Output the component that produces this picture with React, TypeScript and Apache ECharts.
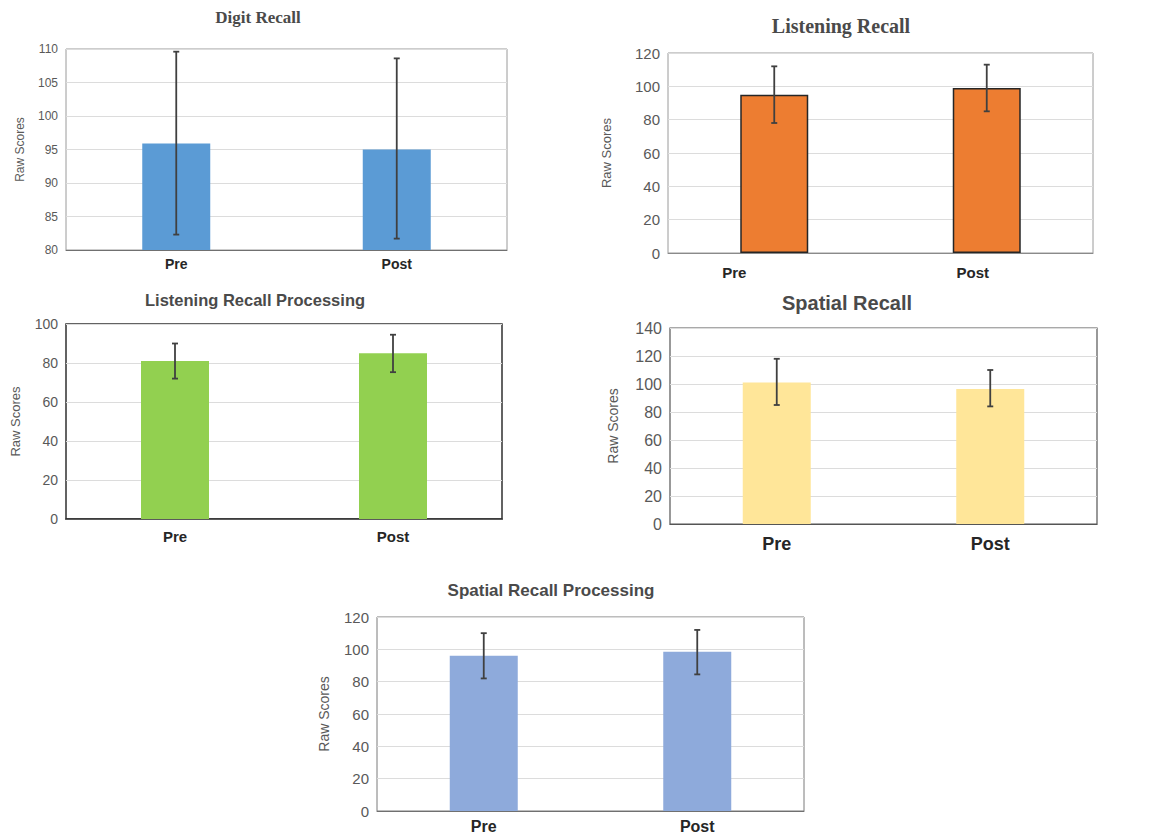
import React, { useEffect, useRef } from "react";
import * as echarts from "echarts";

// Test phases shown on every x axis
const phases = ["Pre", "Post"];

// Digit Recall
const digitMean = [95.9, 95.0];
const digitLow = [82.3, 81.7];
const digitHigh = [109.6, 108.6];
const digitTicks = { min: 80, max: 110, interval: 5 };

// Listening Recall
const listenMean = [95, 99];
const listenLow = [78, 85];
const listenHigh = [112, 113];
const listenTicks = { min: 0, max: 120, interval: 20 };

// Listening Recall Processing
const listenProcMean = [81, 85];
const listenProcLow = [72, 75.3];
const listenProcHigh = [90, 94.5];
const listenProcTicks = { min: 0, max: 100, interval: 20 };

// Spatial Recall
const spatialMean = [101, 96.5];
const spatialLow = [85, 84];
const spatialHigh = [118, 110];
const spatialTicks = { min: 0, max: 140, interval: 20 };

// Spatial Recall Processing
const spatialProcMean = [96, 98.5];
const spatialProcLow = [82, 84.5];
const spatialProcHigh = [110, 112];
const spatialProcTicks = { min: 0, max: 120, interval: 20 };

type Panel = {
  title: string;
  titleFont: string;
  titleSize: number;
  titleX: number;
  titleTop: number;
  grid: { left: number; top: number; width: number; height: number };
  borderColor: string;
  borderWidth: number;
  axisColor: string;
  ticks: { min: number; max: number; interval: number };
  tickSize: number;
  catSize: number;
  catShift: number[];
  catMargin: number;
  nameSize: number;
  nameGap: number;
  mean: number[];
  low: number[];
  high: number[];
  color: string;
  barBorder: string | null;
};

const panels: Panel[] = [
  {
    title: "Digit Recall",
    titleFont: "Liberation Serif",
    titleSize: 17,
    titleX: 253,
    titleTop: 4,
    grid: { left: 66, top: 49, width: 441, height: 201 },
    borderColor: "#9a9a9a",
    borderWidth: 1,
    axisColor: "#707070",
    ticks: digitTicks,
    tickSize: 12,
    catSize: 14,
    catShift: [0, 0],
    catMargin: 7,
    nameSize: 12,
    nameGap: 40,
    mean: digitMean,
    low: digitLow,
    high: digitHigh,
    color: "#5b9bd5",
    barBorder: null,
  },
  {
    title: "Listening Recall",
    titleFont: "Liberation Serif",
    titleSize: 20,
    titleX: 836,
    titleTop: 11,
    grid: { left: 668, top: 53, width: 425, height: 200 },
    borderColor: "#9a9a9a",
    borderWidth: 1,
    axisColor: "#8a8a8a",
    ticks: listenTicks,
    tickSize: 15,
    catSize: 15,
    catShift: [-40, -14],
    catMargin: 12,
    nameSize: 13,
    nameGap: 55,
    mean: listenMean,
    low: listenLow,
    high: listenHigh,
    color: "#ed7d31",
    barBorder: "#262626",
  },
  {
    title: "Listening Recall Processing",
    titleFont: "Liberation Sans",
    titleSize: 16.5,
    titleX: 250,
    titleTop: 286,
    grid: { left: 66, top: 324, width: 436, height: 195 },
    borderColor: "#303030",
    borderWidth: 1.5,
    axisColor: "#303030",
    ticks: listenProcTicks,
    tickSize: 14,
    catSize: 15,
    catShift: [0, 0],
    catMargin: 10,
    nameSize: 13,
    nameGap: 44,
    mean: listenProcMean,
    low: listenProcLow,
    high: listenProcHigh,
    color: "#92d050",
    barBorder: null,
  },
  {
    title: "Spatial Recall",
    titleFont: "Liberation Sans",
    titleSize: 20,
    titleX: 842,
    titleTop: 288,
    grid: { left: 670, top: 328, width: 427, height: 196 },
    borderColor: "#555555",
    borderWidth: 1.2,
    axisColor: "#555555",
    ticks: spatialTicks,
    tickSize: 16,
    catSize: 18,
    catShift: [0, 0],
    catMargin: 11,
    nameSize: 14,
    nameGap: 50,
    mean: spatialMean,
    low: spatialLow,
    high: spatialHigh,
    color: "#ffe699",
    barBorder: null,
  },
  {
    title: "Spatial Recall Processing",
    titleFont: "Liberation Sans",
    titleSize: 17,
    titleX: 546,
    titleTop: 577,
    grid: { left: 377, top: 617, width: 427, height: 194 },
    borderColor: "#7a7a7a",
    borderWidth: 1,
    axisColor: "#707070",
    ticks: spatialProcTicks,
    tickSize: 15,
    catSize: 16,
    catShift: [0, 0],
    catMargin: 7,
    nameSize: 14,
    nameGap: 46,
    mean: spatialProcMean,
    low: spatialProcLow,
    high: spatialProcHigh,
    color: "#8eaadb",
    barBorder: null,
  },
];

// Draws a vertical whisker with short caps between the low and high values
const errorBar = (params: any, api: any) => {
  const idx = api.value(0);
  const lo = api.coord([idx, api.value(1)]);
  const hi = api.coord([idx, api.value(2)]);
  const cap = 3;
  const style = { stroke: "#404040", lineWidth: 1.8 };
  return {
    type: "group",
    children: [
      { type: "line", shape: { x1: lo[0], y1: lo[1], x2: hi[0], y2: hi[1] }, style },
      { type: "line", shape: { x1: lo[0] - cap, y1: lo[1], x2: lo[0] + cap, y2: lo[1] }, style },
      { type: "line", shape: { x1: hi[0] - cap, y1: hi[1], x2: hi[0] + cap, y2: hi[1] }, style },
    ],
  };
};

function buildOption() {
  const title: any[] = [];
  const grid: any[] = [];
  const xAxis: any[] = [];
  const yAxis: any[] = [];
  const series: any[] = [];

  panels.forEach((p, i) => {
    title.push({
      text: p.title,
      left: p.titleX,
      top: p.titleTop,
      textAlign: "center",
      textStyle: {
        fontFamily: p.titleFont,
        fontSize: p.titleSize,
        fontWeight: "bold",
        color: "#4a4a4a",
      },
    });
    grid.push({
      ...p.grid,
      show: true,
      borderColor: p.borderColor,
      borderWidth: p.borderWidth,
      backgroundColor: "#ffffff",
      containLabel: false,
    });
    xAxis.push({
      type: "category",
      gridIndex: i,
      data: phases.map((ph, k) => {
        const s = p.catShift[k];
        return {
          value: ph,
          textStyle: {
            padding: s < 0 ? [0, -2 * s, 0, 0] : [0, 0, 0, 2 * s],
          },
        };
      }),
      axisTick: { show: false },
      axisLine: { show: true, lineStyle: { color: p.axisColor, width: p.borderWidth } },
      axisLabel: {
        margin: p.catMargin,
        fontFamily: "Liberation Sans",
        fontSize: p.catSize,
        fontWeight: "bold",
        color: "#262626",
      },
    });
    yAxis.push({
      type: "value",
      gridIndex: i,
      min: p.ticks.min,
      max: p.ticks.max,
      interval: p.ticks.interval,
      name: "Raw Scores",
      nameLocation: "middle",
      nameRotate: 90,
      nameGap: p.nameGap,
      nameTextStyle: {
        fontFamily: "Liberation Sans",
        fontSize: p.nameSize,
        color: "#595959",
      },
      axisLine: { show: false },
      axisTick: { show: false },
      axisLabel: {
        margin: 8,
        fontFamily: "Liberation Sans",
        fontSize: p.tickSize,
        color: "#595959",
      },
      splitLine: { show: true, lineStyle: { color: "#dcdcdc", width: 1 } },
    });
    series.push({
      type: "bar",
      xAxisIndex: i,
      yAxisIndex: i,
      data: p.mean,
      barWidth: 68,
      itemStyle: {
        color: p.color,
        borderColor: p.barBorder || p.color,
        borderWidth: p.barBorder ? 1.5 : 0,
      },
      z: 2,
    });
    series.push({
      type: "custom",
      xAxisIndex: i,
      yAxisIndex: i,
      renderItem: errorBar,
      encode: { x: 0, y: [1, 2] },
      data: p.mean.map((_, k) => [k, p.low[k], p.high[k]]),
      z: 3,
    });
  });

  return {
    animation: false,
    backgroundColor: "#ffffff",
    title,
    grid,
    xAxis,
    yAxis,
    series,
  };
}

export default function App() {
  const ref = useRef<HTMLDivElement>(null);
  useEffect(() => {
    if (!ref.current) return;
    const chart = echarts.init(ref.current, null, { renderer: "svg" });
    chart.setOption(buildOption());
    return () => chart.dispose();
  }, []);
  return (
    <div
      ref={ref}
      style={{ position: "fixed", left: 0, top: 0, width: 1150, height: 838, background: "#fff" }}
    />
  );
}
